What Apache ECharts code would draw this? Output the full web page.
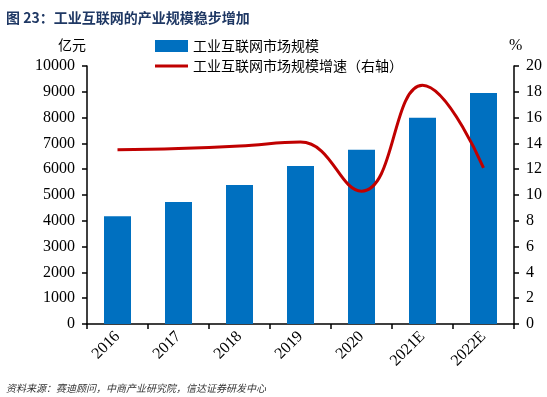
<!DOCTYPE html>
<html>
<head>
<meta charset="utf-8">
<script src="https://cdn.jsdelivr.net/npm/echarts@6/dist/echarts.min.js"></script>
<style>
  html, body { margin: 0; padding: 0; background: #fff; }
  #chart { width: 547px; height: 397px; }
</style>
</head>
<body>
<div id="chart"></div>
<script>
const categories = ['2016', '2017', '2018', '2019', '2020', '2021E', '2022E']
const marketSize = [4180, 4730, 5390, 6120, 6750, 7990, 8950]
const growthRate = [13.5, 13.6, 13.8, 14.1, 10.3, 18.5, 12.1]

const serif = 'Liberation Serif'
const cjk = 'Noto Sans CJK SC'

const chart = echarts.init(document.getElementById('chart'))

const yAxisBase = (min, max, interval, position) => ({
  type: 'value',
  min,
  max,
  interval,
  position,
  axisLine: { show: true, lineStyle: { color: '#000', width: 1.5 } },
  axisTick: { show: true, inside: false, length: 5, lineStyle: { color: '#000', width: 1.5 } },
  splitLine: { show: false },
  axisLabel: {
    color: '#000',
    fontFamily: serif,
    fontSize: 16,
    margin: 12,
    formatter: (v) => String(v)
  }
})

chart.setOption({
  animation: false,
  graphic: [
    {
      type: 'text', left: 6, top: 11,
      style: { text: '图 23：工业互联网的产业规模稳步增加', fill: '#1f3864', font: 'bold 14px "' + cjk + '"' }
    },
    {
      type: 'text', left: 58, top: 38,
      style: { text: '亿元', fill: '#000', font: '14px "' + cjk + '"' }
    },
    {
      type: 'text', left: 509, top: 38,
      style: { text: '%', fill: '#000', font: '16px "' + serif + '"' }
    },
    {
      type: 'text', left: 6, top: 383,
      style: { text: '资料来源：赛迪顾问，中商产业研究院，信达证券研发中心', fill: '#333', font: 'italic 10px "' + cjk + '"' }
    }
  ],
  legend: {
    orient: 'vertical',
    left: 150,
    top: 34,
    itemGap: 6,
    itemWidth: 33,
    itemHeight: 12,
    textStyle: { color: '#000', fontFamily: cjk, fontSize: 14 },
    data: [
      { name: '工业互联网市场规模', icon: 'rect' },
      { name: '工业互联网市场规模增速（右轴）', icon: 'path://M0,0 L33,0 L33,3 L0,3 Z' }
    ]
  },
  grid: { left: 87, right: 33, top: 66, bottom: 73 },
  xAxis: {
    type: 'category',
    data: categories,
    boundaryGap: true,
    axisLine: { lineStyle: { color: '#000', width: 1.5 } },
    axisTick: { show: true, alignWithLabel: false, length: 5, lineStyle: { color: '#000', width: 1.5 } },
    axisLabel: { color: '#000', fontFamily: serif, fontSize: 16, rotate: 45, margin: 10, interval: 0 }
  },
  yAxis: [
    yAxisBase(0, 10000, 1000, 'left'),
    yAxisBase(0, 20, 2, 'right')
  ],
  series: [
    {
      name: '工业互联网市场规模',
      type: 'bar',
      data: marketSize,
      barWidth: 27,
      itemStyle: { color: '#0070c0' },
      yAxisIndex: 0
    },
    {
      name: '工业互联网市场规模增速（右轴）',
      type: 'line',
      data: growthRate,
      yAxisIndex: 1,
      smooth: 0.45,
      symbol: 'none',
      lineStyle: { color: '#c00000', width: 3 },
      itemStyle: { color: '#c00000' }
    }
  ]
})
</script>
</body>
</html>
